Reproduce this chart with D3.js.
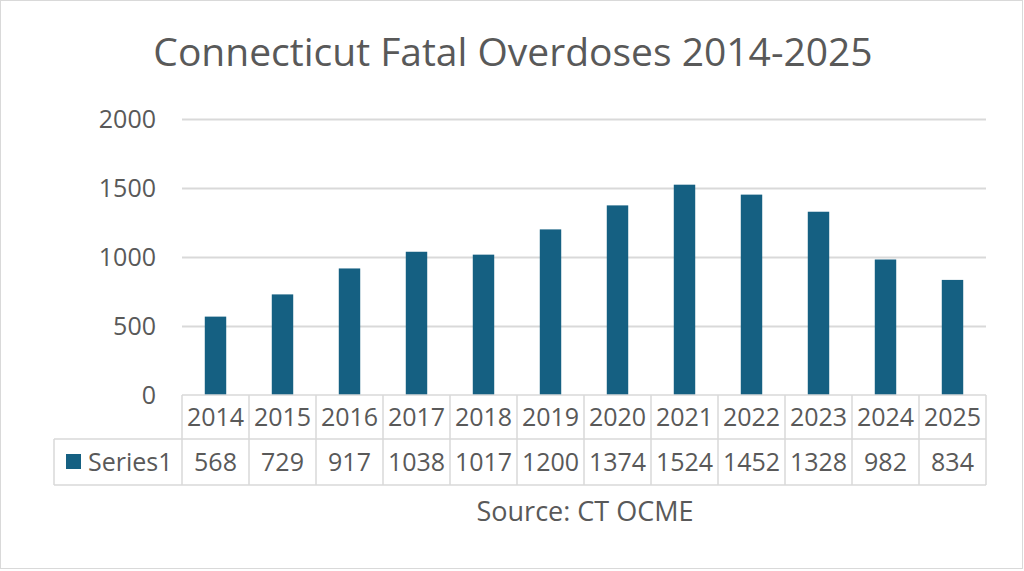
<!DOCTYPE html>
<html>
<head>
<meta charset="utf-8">
<script src="https://cdnjs.cloudflare.com/ajax/libs/d3/7.8.5/d3.min.js"></script>
<style>
  body { margin: 0; background: #fff; }
  svg text { font-family: "Open Sans", "Liberation Sans", sans-serif; fill: #595959; }
</style>
</head>
<body>
<svg id="chart" width="1024" height="571"></svg>
<script type="text/javascript">
    ;(function(){

        var years = ["2014","2015","2016","2017","2018","2019","2020","2021","2022","2023","2024","2025"];
        var deaths = [568, 729, 917, 1038, 1017, 1200, 1374, 1524, 1452, 1328, 982, 834];
        var yTicks = [0, 500, 1000, 1500, 2000];
        var seriesName = "Series1";
        var title = "Connecticut Fatal Overdoses 2014-2025";
        var source = "Source: CT OCME";

        var barColor = "#156082",
            lineColor = "#d9d9d9",
            labelSize = "25px";

        var svg = d3.select("#chart");

        // outer frame
        svg.append("rect")
            .attr("x", 0.5).attr("y", 0.5)
            .attr("width", 1022).attr("height", 568)
            .attr("fill", "none").attr("stroke", lineColor);

        var left = 182, right = 986, top = 119, bottom = 395;

        var x = d3.scaleBand().domain(years).range([left, right])
            .paddingInner(0.68).paddingOuter(0.34);
        var cols = d3.scaleBand().domain(years).range([left, right]);
        var y = d3.scaleLinear().domain([0, 2000]).range([bottom, top]);

        svg.append("text")
            .attr("x", 513).attr("y", 66)
            .attr("text-anchor", "middle")
            .style("font-size", "39px")
            .text(title);

        // gridlines
        svg.append("g").selectAll("line")
            .data(yTicks.filter(function(d){ return d > 0 }))
            .enter().append("line")
            .attr("x1", left).attr("x2", right)
            .attr("y1", function(d){ return y(d) + 0.5 })
            .attr("y2", function(d){ return y(d) + 0.5 })
            .attr("stroke", lineColor).attr("stroke-width", 2);

        var yAxis = svg.append("g")
            .attr("transform", "translate(156,0)")
            .call(d3.axisLeft(y).tickValues(yTicks).tickFormat(d3.format("d"))
                .tickSize(0).tickPadding(0));
        yAxis.select(".domain").remove();
        yAxis.selectAll("text")
            .style("font-size", labelSize)
            .attr("fill", "#595959");

        svg.append("g").selectAll("rect")
            .data(deaths)
            .enter().append("rect")
            .attr("x", function(d, i){ return x(years[i]) })
            .attr("width", x.bandwidth())
            .attr("y", function(d){ return y(d) })
            .attr("height", function(d){ return y(0) - y(d) })
            .attr("fill", barColor);

        // data table
        var row1 = bottom, row2 = 439, row3 = 485, legendLeft = 54;
        var grid = svg.append("g").attr("stroke", lineColor).attr("stroke-width", 1.5);
        grid.append("line").attr("x1", left).attr("x2", right).attr("y1", row1).attr("y2", row1);
        grid.append("line").attr("x1", legendLeft).attr("x2", right).attr("y1", row2).attr("y2", row2);
        grid.append("line").attr("x1", legendLeft).attr("x2", right).attr("y1", row3).attr("y2", row3);
        grid.append("line").attr("x1", legendLeft).attr("x2", legendLeft).attr("y1", row2).attr("y2", row3);
        grid.selectAll(".vline")
            .data(years.concat(["end"]))
            .enter().append("line")
            .attr("x1", function(d, i){ return left + i * cols.step() })
            .attr("x2", function(d, i){ return left + i * cols.step() })
            .attr("y1", row1).attr("y2", row3);

        svg.append("g").selectAll("text")
            .data(years)
            .enter().append("text")
            .attr("x", function(d){ return cols(d) + cols.bandwidth() / 2 })
            .attr("y", (row1 + row2) / 2)
            .attr("dy", "0.36em")
            .attr("text-anchor", "middle")
            .style("font-size", labelSize)
            .text(function(d){ return d });

        svg.append("g").selectAll("text")
            .data(deaths)
            .enter().append("text")
            .attr("x", function(d, i){ return cols(years[i]) + cols.bandwidth() / 2 })
            .attr("y", (row2 + row3) / 2)
            .attr("dy", "0.36em")
            .attr("text-anchor", "middle")
            .style("font-size", labelSize)
            .text(function(d){ return d });

        svg.append("rect")
            .attr("x", 66).attr("y", 454)
            .attr("width", 15).attr("height", 15)
            .attr("fill", barColor);
        svg.append("text")
            .attr("x", 88).attr("y", (row2 + row3) / 2)
            .attr("dy", "0.36em")
            .style("font-size", labelSize)
            .text(seriesName);

        svg.append("text")
            .attr("x", 585).attr("y", 521)
            .attr("text-anchor", "middle")
            .style("font-size", "27px")
            .text(source);

    })();
</script>
</body>
</html>
